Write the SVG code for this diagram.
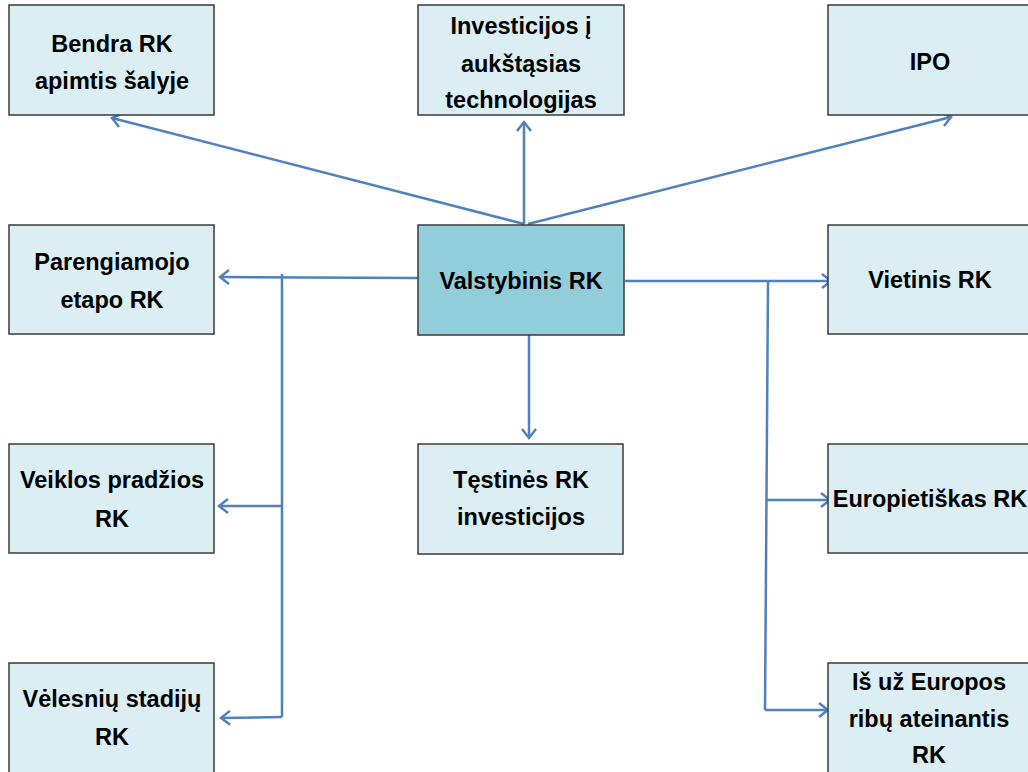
<svg xmlns="http://www.w3.org/2000/svg" width="1028" height="772" viewBox="0 0 1028 772">
<style>
.box{fill:#DAEEF3;stroke:#3a3a3a;stroke-width:1.5}
.main{fill:#92CDDC;stroke:#3a3a3a;stroke-width:1.5}
.t{font-family:"Liberation Sans",Arial,sans-serif;font-weight:bold;font-size:23.5px;fill:#000;text-anchor:middle}
.c{fill:none;stroke:#4F81BD;stroke-width:2.5}
</style>
<defs>
<marker id="ah" markerUnits="userSpaceOnUse" markerWidth="14" markerHeight="18" refX="11" refY="9" orient="auto">
<path d="M2,2 L11,9 L2,16" fill="none" stroke="#4F81BD" stroke-width="2.5"/>
</marker>
</defs>
<rect width="1028" height="772" fill="#fff"/>
<g id="connectors">
<line class="c" x1="524" y1="224" x2="112" y2="118" marker-end="url(#ah)"/>
<line class="c" x1="524" y1="224" x2="524" y2="122" marker-end="url(#ah)"/>
<line class="c" x1="528" y1="224" x2="951" y2="117" marker-end="url(#ah)"/>
<line class="c" x1="418" y1="278" x2="220" y2="277" marker-end="url(#ah)"/>
<polyline class="c" points="282,274 282,717"/>
<line class="c" x1="282" y1="506" x2="219" y2="506" marker-end="url(#ah)"/>
<line class="c" x1="282" y1="717" x2="221" y2="718" marker-end="url(#ah)"/>
<line class="c" x1="529" y1="335" x2="529" y2="438" marker-end="url(#ah)"/>
<line class="c" x1="625" y1="281" x2="831" y2="281" marker-end="url(#ah)"/>
<polyline class="c" points="768,281 765,710"/>
<line class="c" x1="767" y1="500" x2="830" y2="500" marker-end="url(#ah)"/>
<line class="c" x1="765" y1="710" x2="828" y2="710" marker-end="url(#ah)"/>
</g>
<g id="bendra">
<rect class="box" x="9" y="5" width="205" height="110"/>
<text class="t" x="112" y="52">Bendra RK</text>
<text class="t" x="112" y="89">apimtis šalyje</text>
</g>
<g id="investicijos">
<rect class="box" x="418" y="5" width="206" height="110"/>
<text class="t" x="521" y="34">Investicijos į</text>
<text class="t" x="521" y="72">aukštąsias</text>
<text class="t" x="521" y="108">technologijas</text>
</g>
<g id="ipo">
<rect class="box" x="828" y="5" width="205" height="110"/>
<text class="t" x="930" y="70">IPO</text>
</g>
<g id="parengiamojo">
<rect class="box" x="9" y="225" width="205" height="109"/>
<text class="t" x="112" y="270">Parengiamojo</text>
<text class="t" x="112" y="308">etapo RK</text>
</g>
<g id="valstybinis">
<rect class="main" x="418" y="225" width="206" height="110"/>
<text class="t" x="521" y="289">Valstybinis RK</text>
</g>
<g id="vietinis">
<rect class="box" x="828" y="225" width="205" height="109"/>
<text class="t" x="930" y="288">Vietinis RK</text>
</g>
<g id="veiklos">
<rect class="box" x="9" y="444" width="205" height="109"/>
<text class="t" x="112" y="488">Veiklos pradžios</text>
<text class="t" x="112" y="527">RK</text>
</g>
<g id="testines">
<rect class="box" x="418" y="444" width="205" height="110"/>
<text class="t" x="521" y="488">Tęstinės RK</text>
<text class="t" x="521" y="525">investicijos</text>
</g>
<g id="europietiskas">
<rect class="box" x="828" y="444" width="205" height="109"/>
<text class="t" x="930" y="507">Europietiškas RK</text>
</g>
<g id="velesniu">
<rect class="box" x="9" y="663" width="205" height="115"/>
<text class="t" x="112" y="707">Vėlesnių stadijų</text>
<text class="t" x="112" y="745">RK</text>
</g>
<g id="isuz">
<rect class="box" x="828" y="663" width="205" height="115"/>
<text class="t" x="929" y="690">Iš už Europos</text>
<text class="t" x="929" y="727">ribų ateinantis</text>
<text class="t" x="929" y="763">RK</text>
</g>
</svg>
